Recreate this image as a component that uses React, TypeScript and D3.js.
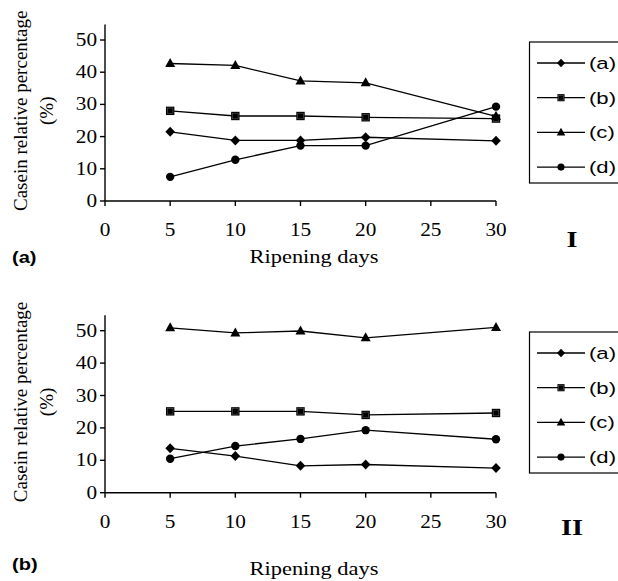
import React from 'react';
import * as d3 from 'd3';

// ripening days on x
const days = [5, 10, 15, 20, 30];
const xTicks = [0, 5, 10, 15, 20, 25, 30];
const yTicks = [0, 10, 20, 30, 40, 50];
const seriesNames = ['(a)', '(b)', '(c)', '(d)'];
const markerKinds = ['diamond', 'square', 'triangle', 'circle'];

// panel I values
const panelIa = [21.5, 18.8, 18.8, 19.8, 18.7];
const panelIb = [28.0, 26.4, 26.4, 26.0, 25.6];
const panelIc = [42.7, 42.1, 37.3, 36.7, 26.3];
const panelId = [7.5, 12.8, 17.2, 17.2, 29.3];

// panel II values
const panelIIa = [13.7, 11.3, 8.3, 8.7, 7.6];
const panelIIb = [25.1, 25.1, 25.1, 24.0, 24.6];
const panelIIc = [50.9, 49.3, 49.9, 47.8, 51.0];
const panelIId = [10.5, 14.4, 16.6, 19.3, 16.5];

const serif = '"Liberation Serif", "Times New Roman", serif';
const sans = '"Liberation Sans", Arial, sans-serif';
const SX = 1.18; // the figure is stretched a little sideways

function Marker({ kind, x, y, s = 1 }: { kind: string; x: number; y: number; s?: number }) {
  if (kind === 'diamond')
    return <path d={`M${x},${y - 5 * s}L${x + 4.8 * s},${y}L${x},${y + 5 * s}L${x - 4.8 * s},${y}Z`} fill="#000" />;
  if (kind === 'square')
    return (
      <g>
        <rect x={x - 4.2 * s} y={y - 4.2 * s} width={8.4 * s} height={8.4 * s} fill="#000" />
        <rect x={x - 2.8 * s} y={y - 2.8 * s} width={5.6 * s} height={5.6 * s} fill="none" stroke="#555" strokeWidth={0.6} />
      </g>
    );
  if (kind === 'triangle')
    return <path d={`M${x},${y - 5.5 * s}L${x + 5 * s},${y + 3.5 * s}L${x - 5 * s},${y + 3.5 * s}Z`} fill="#000" />;
  return <circle cx={x} cy={y} r={4.2 * s} fill="#000" />;
}

function SText({ x, y, anchor, size, family, weight, sx, children }: any) {
  return (
    <text
      transform={`translate(${x},${y}) scale(${sx || SX},1)`}
      textAnchor={anchor || 'start'}
      fontSize={size}
      fontFamily={family}
      fontWeight={weight || 'normal'}
      fill="#000"
    >
      {children}
    </text>
  );
}

function Panel({ top, y0, y50, data, tag, tagY, roman, romanY, titleY }: any) {
  const x = d3.scaleLinear().domain([0, 30]).range([105, 496]);
  const y = d3.scaleLinear().domain([0, 50]).range([y0, y50]);
  const yTop = y(54.8);
  const line = d3
    .line<number>()
    .x((_, i) => x(days[i]))
    .y((d) => y(d));
  const midY = (y(0) + yTop) / 2 - 2;
  const legTop = top;
  return (
    <g>
      {/* y title */}
      <text
        transform={`translate(27,${midY}) rotate(-90)`}
        textAnchor="middle"
        fontSize={19}
        fontFamily={serif}
      >
        Casein relative percentage
      </text>
      <text
        transform={`translate(53,${midY}) rotate(-90)`}
        textAnchor="middle"
        fontSize={19}
        fontFamily={serif}
      >
        (%)
      </text>
      {/* axes */}
      <line x1={x(0)} x2={x(0)} y1={yTop} y2={y(0)} stroke="#000" strokeWidth={1.4} />
      <line x1={x(0)} x2={x(30)} y1={y(0)} y2={y(0)} stroke="#000" strokeWidth={1.4} />
      {yTicks.map((t) => (
        <g key={'y' + t}>
          <line x1={x(0) - 5} x2={x(0)} y1={y(t)} y2={y(t)} stroke="#000" strokeWidth={1.4} />
          <SText x={97} y={y(t) + 6} anchor="end" size={18} family={serif}>
            {t}
          </SText>
        </g>
      ))}
      {xTicks.map((t) => (
        <g key={'x' + t}>
          <line x1={x(t)} x2={x(t)} y1={y(0)} y2={y(0) + 5} stroke="#000" strokeWidth={1.4} />
          <SText x={x(t)} y={y(0) + 35} anchor="middle" size={18} family={serif}>
            {t}
          </SText>
        </g>
      ))}
      <SText x={314} y={titleY} anchor="middle" size={19} family={serif}>
        Ripening days
      </SText>
      <SText x={12} y={tagY} size={17} family={sans} weight="bold">
        {tag}
      </SText>
      <SText x={572} y={romanY} anchor="middle" size={24} family={serif} weight="bold">
        {roman}
      </SText>
      {/* series */}
      {data.map((vals: number[], si: number) => (
        <g key={'s' + si}>
          <path d={line(vals) || ''} fill="none" stroke="#000" strokeWidth={1.3} />
          {vals.map((v, i) => (
            <Marker key={i} kind={markerKinds[si]} x={x(days[i])} y={y(v)} />
          ))}
        </g>
      ))}
      {/* legend */}
      <rect x={529.5} y={legTop} width={120} height={141} fill="#fff" stroke="#000" strokeWidth={1.2} />
      {seriesNames.map((n, i) => {
        const ly = legTop + 21 + i * 34.7;
        return (
          <g key={n}>
            <line x1={537} x2={585} y1={ly} y2={ly} stroke="#000" strokeWidth={1.3} />
            <Marker kind={markerKinds[i]} x={561} y={ly} s={0.85} />
            <SText x={589} y={ly + 6} size={17} family={sans} sx={1.3}>
              {n}
            </SText>
          </g>
        );
      })}
    </g>
  );
}

export default function App() {
  return (
    <svg
      width={618}
      height={581}
      style={{ position: 'absolute', left: 0, top: 0, background: '#fff' }}
    >
      <rect width={618} height={581} fill="#fff" />
      <Panel
        top={42}
        y0={201}
        y50={40}
        data={[panelIa, panelIb, panelIc, panelId]}
        tag="(a)"
        tagY={263}
        roman="I"
        romanY={247}
        titleY={263}
      />
      <Panel
        top={332}
        y0={492.7}
        y50={330.7}
        data={[panelIIa, panelIIb, panelIIc, panelIId]}
        tag="(b)"
        tagY={570}
        roman="II"
        romanY={535}
        titleY={575}
      />
    </svg>
  );
}
